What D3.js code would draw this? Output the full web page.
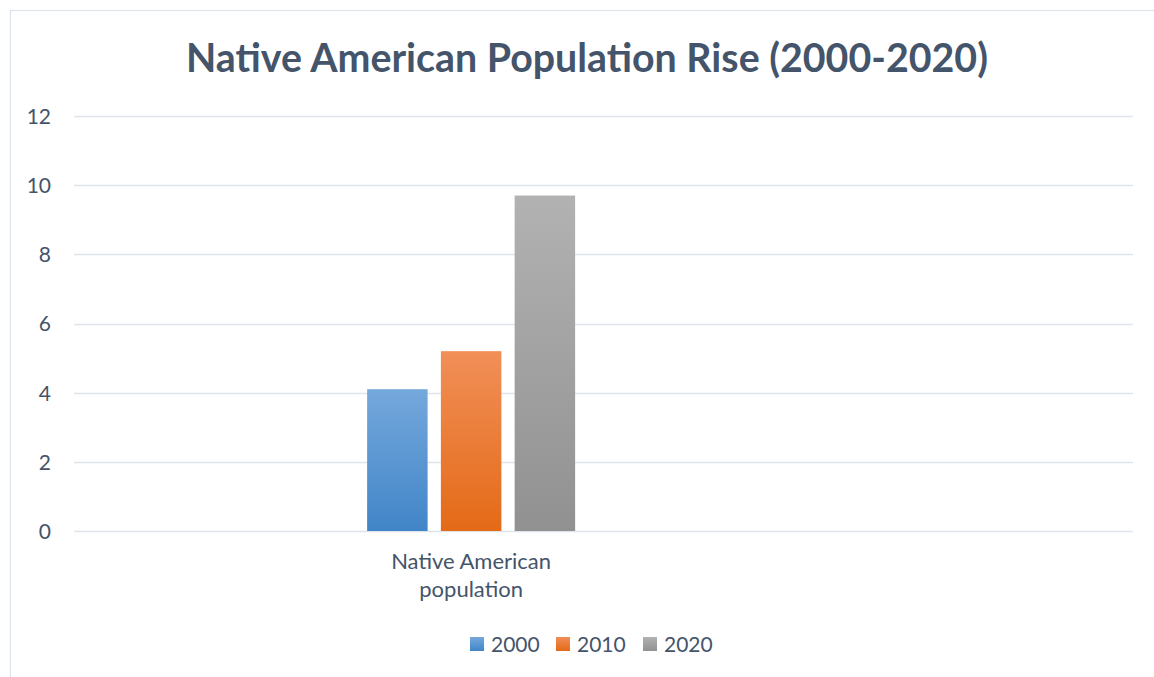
<!DOCTYPE html>
<html><head><meta charset="utf-8">
<script src="https://cdn.jsdelivr.net/npm/d3@7"></script>
<style>html,body{margin:0;padding:0;background:#fff;overflow:hidden}</style>
</head><body>
<svg id="chart" width="1154" height="677"></svg>
<script>
const title = "Native American Population Rise (2000-2020)";
const categories = ["Native American population"];
const categoryLines = [["Native American", "population"]];
const years = ["2000", "2010", "2020"];
const values2000 = [4.1];
const values2010 = [5.2];
const values2020 = [9.7];
const seriesValues = [values2000, values2010, values2020];
const yTicks = [0, 2, 4, 6, 8, 10, 12];

const gradStops = [["#75a8dc", "#4185c8"], ["#f18f58", "#e46a17"], ["#b2b2b2", "#919191"]];
const font = "Lato, 'Open Sans', sans-serif";
const textColor = "#44546a";

const svg = d3.select("#chart");
const defs = svg.append("defs");
gradStops.forEach((s, i) => {
  const g = defs.append("linearGradient").attr("id", "g" + i).attr("x1", 0).attr("y1", 0).attr("x2", 0).attr("y2", 1);
  g.append("stop").attr("offset", "0%").attr("stop-color", s[0]);
  g.append("stop").attr("offset", "100%").attr("stop-color", s[1]);
});

svg.append("rect").attr("x", 10.5).attr("y", 10.5).attr("width", 1300).attr("height", 900)
  .attr("fill", "#fff").attr("stroke", "#dde3eb").attr("stroke-width", 1.2);

const plotL = 74, plotR = 1133, plotT = 116, plotB = 531;
const y = d3.scaleLinear().domain([0, 12]).range([plotB, plotT]);
const x0 = d3.scaleBand().domain(categories).range([plotL, plotL + (plotR - plotL) * 0.75]);

// gridlines
svg.append("g").selectAll("line").data(yTicks).join("line")
  .attr("x1", plotL).attr("x2", plotR)
  .attr("y1", d => Math.round(y(d)) + 0.5).attr("y2", d => Math.round(y(d)) + 0.5)
  .attr("stroke", "#dfe3ea").attr("stroke-width", 1.3);

// y labels
const yAxis = d3.axisLeft(y).tickValues(yTicks).tickSize(0).tickPadding(0);
const ya = svg.append("g").attr("transform", "translate(51,0)").call(yAxis);
ya.select(".domain").remove();
ya.selectAll("text").attr("font-family", font).attr("font-size", 21).attr("fill", textColor).attr("dy", "0.35em");

// bars
categories.forEach((c, ci) => {
  const cx = x0(c) + x0.bandwidth() / 2;
  const x1 = d3.scaleBand().domain(years).range([cx - 104, cx + 104]).paddingInner(0.18);
  years.forEach((yr, si) => {
    const v = seriesValues[si][ci];
    svg.append("rect").attr("x", x1(yr)).attr("width", x1.bandwidth())
      .attr("y", y(v)).attr("height", y(0) - y(v)).attr("fill", `url(#g${si})`);
  });
  const t = svg.append("text").attr("x", cx).attr("text-anchor", "middle")
    .attr("font-family", font).attr("font-size", 22).attr("fill", textColor);
  categoryLines[ci].forEach((ln, li) => {
    t.append("tspan").attr("x", cx).attr("y", 569 + li * 28).text(ln);
  });
});

// title
const tt = svg.append("text").attr("x", 587).attr("y", 72).attr("text-anchor", "middle")
  .attr("font-family", font).attr("font-weight", "bold").attr("font-size", 37)
  .attr("fill", textColor).text(title);
const tw = tt.node().getComputedTextLength();
tt.attr("font-size", 37 * 802 / tw);

// legend
const legX = [470, 556, 643];
const leg = svg.append("g");
years.forEach((yr, i) => {
  leg.append("rect").attr("x", legX[i]).attr("y", 637).attr("width", 14).attr("height", 14).attr("fill", `url(#g${i})`);
  leg.append("text").attr("x", legX[i] + 21).attr("y", 652).attr("font-family", font)
    .attr("font-size", 21).attr("fill", textColor).text(yr);
});
</script>
</body></html>
